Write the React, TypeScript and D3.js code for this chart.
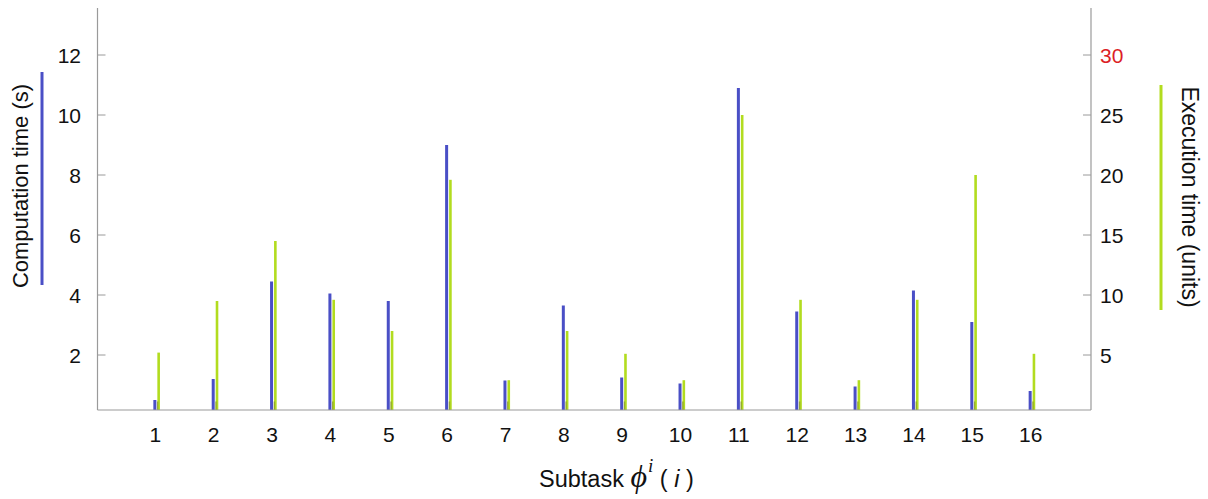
import React from "react";
import * as d3 from "d3";

const subtasks = [1, 2, 3, 4, 5, 6, 7, 8, 9, 10, 11, 12, 13, 14, 15, 16];
const computationTime = [0.5, 1.2, 4.45, 4.05, 3.8, 9.0, 1.15, 3.65, 1.25, 1.05, 10.9, 3.45, 0.95, 4.15, 3.1, 0.8];
const executionTime = [5.2, 9.5, 14.5, 9.6, 7.0, 19.6, 2.9, 7.0, 5.1, 2.9, 25.0, 9.6, 2.9, 9.6, 20.0, 5.1];
const leftTicks = [2, 4, 6, 8, 10, 12];
const rightTicks = [5, 10, 15, 20, 25, 30];
const overlapLevel = 0.45;

const W = 1208;
const H = 499;
const axL = 97.5;
const axR = 1091;
const axTop = 8;
const axBottom = 410;

const BLUE = "#4a4fc6";
const GREEN = "#b2dc1f";
const OLIVE = "#8a9a30";
const AXIS = "#9a9a9a";
const FONT = "'Liberation Sans', Arial, sans-serif";
const SERIF = "'Liberation Serif', 'DejaVu Serif', serif";

export default function App() {
  const x = d3.scaleLinear().domain([0, 17]).range([98, 1090]);
  const yL = d3.scaleLinear().domain([0, 12]).range([415, 55]);
  const yR = d3.scaleLinear().domain([0, 30]).range([415, 55]);

  return (
    <div style={{ position: "absolute", left: 0, top: 0, background: "#fff" }}>
      <svg width={W} height={H} style={{ display: "block" }} fontFamily={FONT}>
        <rect x={0} y={0} width={W} height={H} fill="#fff" />
        {subtasks.map((s, i) => {
          const c = x(s);
          const yb = yL(computationTime[i]);
          const yg = yR(executionTime[i]);
          const yo = yL(overlapLevel);
          return (
            <g key={s}>
              <rect x={c - 3} y={yb} width={3} height={axBottom - yb} fill={BLUE} />
              <rect x={c + 1} y={yg} width={2.6} height={axBottom - yg} fill={GREEN} />
              <rect x={c + 0.6} y={yo} width={1.4} height={axBottom - yo} fill={OLIVE} opacity={0.8} />
            </g>
          );
        })}
        <line x1={axL} x2={axL} y1={axTop} y2={axBottom} stroke={AXIS} strokeWidth={1.2} />
        <line x1={axR} x2={axR} y1={axTop} y2={axBottom} stroke={AXIS} strokeWidth={1.2} />
        <line x1={axL} x2={axR} y1={axBottom} y2={axBottom} stroke={AXIS} strokeWidth={1.2} />
        {leftTicks.map((t) => (
          <g key={"l" + t}>
            <line x1={axL} x2={axL + 8} y1={yL(t)} y2={yL(t)} stroke={AXIS} strokeWidth={1} />
            <text x={81} y={yL(t)} dy="0.36em" textAnchor="end" fontSize={21} fill="#111">
              {t}
            </text>
          </g>
        ))}
        {rightTicks.map((t) => (
          <g key={"r" + t}>
            <line x1={axR - 8} x2={axR} y1={yR(t)} y2={yR(t)} stroke={AXIS} strokeWidth={1} />
            <text x={1100} y={yR(t)} dy="0.36em" textAnchor="start" fontSize={21} fill={t === 30 ? "#dc1f26" : "#111"}>
              {t}
            </text>
          </g>
        ))}
        {subtasks.map((s) => (
          <text key={"x" + s} x={x(s) - 1} y={442} textAnchor="middle" fontSize={21} fill="#111">
            {s}
          </text>
        ))}
        <text transform="translate(28,186) rotate(-90)" textAnchor="middle" fontSize={22} fill="#111">
          Computation time (s)
        </text>
        <line x1={42} x2={42} y1={72} y2={285} stroke={BLUE} strokeWidth={3} />
        <text transform="translate(1182,197) rotate(90)" textAnchor="middle" fontSize={23} fill="#111">
          Execution time (units)
        </text>
        <line x1={1161} x2={1161} y1={85} y2={310} stroke={GREEN} strokeWidth={3} />
        <text x={539} y={487} fontSize={23.5} fill="#111">
          <tspan>Subtask </tspan>
          <tspan fontFamily={SERIF} fontStyle="italic" fontSize={32}>
            ϕ
          </tspan>
          <tspan fontFamily={SERIF} fontStyle="italic" fontSize={19} dy={-15} dx={1}>
            i
          </tspan>
          <tspan dy={15}>{"  ( "}</tspan>
          <tspan fontStyle="italic">i</tspan>
          <tspan>{"  )"}</tspan>
        </text>
      </svg>
    </div>
  );
}
